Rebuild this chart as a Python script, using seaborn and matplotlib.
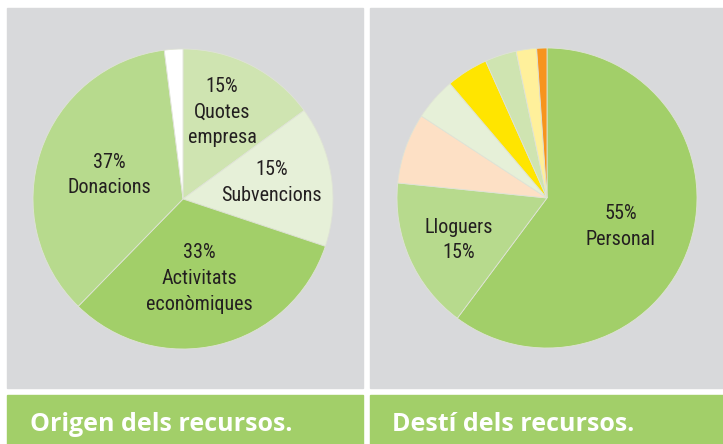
import matplotlib
matplotlib.use("Agg")
import matplotlib.pyplot as plt
from matplotlib.patches import Rectangle
import seaborn as sns

# Origen dels recursos (left pie), % of total
origen_labels = ["15%\nQuotes\nempresa", "15%\nSubvencions", "33%\nActivitats\neconòmiques", "37%\nDonacions", ""]
origen_values = [15, 15.2, 32.3, 35.8, 2.0]
origen_colors = ["#cfe4b1", "#e6f0d8", "#a2cf69", "#b7da8d", "#ffffff"]

# Destí dels recursos (right pie)
desti_labels = ["55%\nPersonal", "Lloguers\n15%", "", "", "", "", "", ""]
desti_values = [60.2, 16.4, 7.6, 4.6, 4.5, 3.4, 2.2, 1.1]
desti_colors = ["#a2cf69", "#b7da8d", "#fde0c5", "#e6f0d8", "#ffe500", "#cfe4b1", "#fff09b", "#f7941d"]

titles = ["Origen dels recursos.", "Destí dels recursos."]

# label positions inside each pie (pie radius = 1)
origen_pos = [(0.26, 0.58), (0.59, 0.11), (0.11, -0.53), (-0.49, 0.16)]
desti_pos = [(0.49, -0.19), (-0.59, -0.28)]

sns.set_theme(style="white")
W, H = 723, 444
fig = plt.figure(figsize=(W / 100, H / 100), dpi=100)
fig.patch.set_facecolor("white")


def frac(x, y, w, h):
    # pixel box (top-left origin) -> figure fraction
    return [x / W, (H - y - h) / H, w / W, h / H]


gray = "#d8d9db"
green = "#a2cf69"
for x0, w in [(7, 356), (370, 353)]:
    l, b, ww, hh = frac(x0, 8, w, 380)
    fig.add_artist(Rectangle((l, b), ww, hh, transform=fig.transFigure, color=gray, zorder=0))
    l, b, ww, hh = frac(x0, 395, w, 49)
    fig.add_artist(Rectangle((l, b), ww, hh, transform=fig.transFigure, color=green, zorder=0))

txt = dict(family="Roboto Condensed", fontsize=14.5, color="#231f20",
           ha="center", va="center", linespacing=1.45)

panels = [
    (183, 199, origen_values, origen_colors, origen_labels, origen_pos),
    (547, 198, desti_values, desti_colors, desti_labels, desti_pos),
]
R = 150
for cx, cy, vals, cols, labs, pos in panels:
    ax = fig.add_axes(frac(cx - R, cy - R, 2 * R, 2 * R))
    ax.pie(vals, colors=cols, startangle=90, counterclock=False, radius=1,
           wedgeprops=dict(edgecolor="#dfe3d6", linewidth=0.6))
    ax.set_xlim(-1, 1)
    ax.set_ylim(-1, 1)
    ax.set_aspect("equal")
    ax.axis("off")
    for lab, (tx, ty) in zip(labs, pos):
        ax.text(tx, ty, lab, **txt)

for x0, t in zip([30, 392], titles):
    fig.text(x0 / W, (H - 431) / H, t, family="Open Sans", fontweight="bold",
             fontsize=18, color="white", ha="left", va="baseline")

fig.savefig("out.png", dpi=100)
